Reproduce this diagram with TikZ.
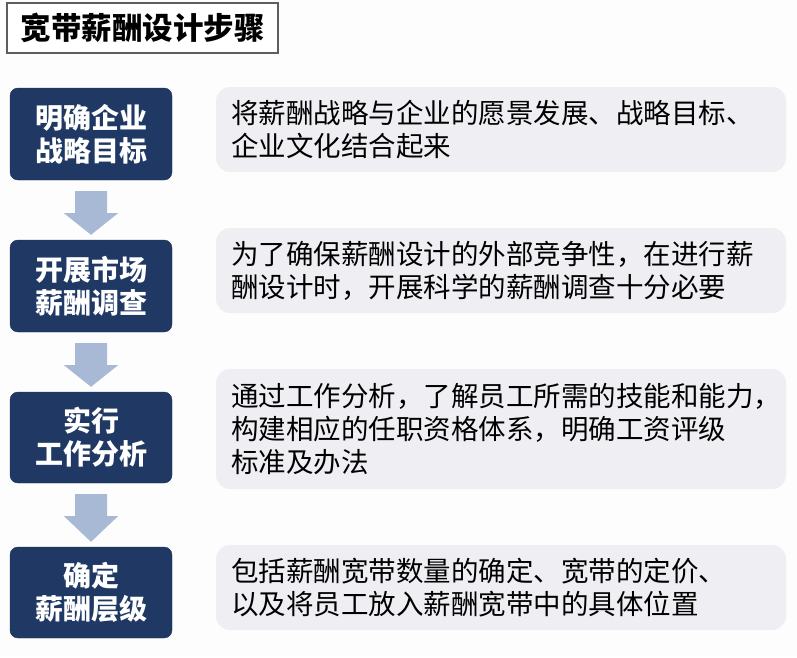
\documentclass[tikz,border=0pt]{standalone}
\usepackage{fontspec}
\newfontfamily\cjk{Noto Sans CJK SC}
\usetikzlibrary{calc}
\definecolor{navy}{HTML}{1F3864}
\definecolor{panel}{HTML}{EFEFF3}
\definecolor{arrowblue}{HTML}{A8B9D6}
\definecolor{titleframe}{HTML}{5E5E5E}
\definecolor{paper}{HTML}{FDFDFD}
\tikzset{
  titlebox/.style={draw=titleframe, line width=2.5pt, fill=white, minimum width=271pt, minimum height=50pt, inner sep=0pt, font=\cjk\bfseries\fontsize{30.5}{34}\selectfont},
  stepbox/.style={draw=navy!85!black, fill=navy, rounded corners=8pt, minimum width=162pt, minimum height=92pt, inner sep=0pt, text=white, align=center, font=\cjk\bfseries\fontsize{28}{33}\selectfont},
  descbox/.style={fill=panel, rounded corners=14pt, minimum width=570pt, text width=540pt, inner xsep=15pt, inner ysep=0pt, align=left, text=black, font=\cjk\fontsize{27.5}{33}\selectfont},
  flowarrow/.style={fill=arrowblue},
}
\newcommand{\blockarrow}[2]{%
  \fill[flowarrow] ($(#1.south)+(-16,11)$) -- ($(#1.south)+(16,11)$) -- ($(#1.south)+(16,33)$) -- ($(#1.south)+(27,33)$) -- ($(#2.north)+(0,-5)$) -- ($(#1.south)+(-27,33)$) -- ($(#1.south)+(-16,33)$) -- cycle;}
\begin{document}
\begin{tikzpicture}[x=1pt,y=-1pt]
\fill[paper] (0,0) rectangle (797,657);
\useasboundingbox (0,0) rectangle (797,657);

\node[titlebox] (title) at (142.5,28) {宽带薪酬设计步骤};

\node[stepbox] (b1) at (91,134) {明确企业\\战略目标};
\node[stepbox] (b2) at (91,286) {开展市场\\薪酬调查};
\node[stepbox, minimum height=91pt] (b3) at (91,437.5) {实行\\工作分析};
\node[stepbox, minimum height=91pt] (b4) at (91,592.5) {确定\\薪酬层级};

\blockarrow{b1}{b2}
\blockarrow{b2}{b3}
\blockarrow{b3}{b4}

\node[descbox, minimum height=85pt] (r1) at (501,129.5) {\raisebox{-3pt}{\parbox{540pt}{将薪酬战略与企业的愿景发展、战略目标、\\企业文化结合起来}}};
\node[descbox, minimum height=85pt] (r2) at (501,270.5) {\raisebox{-3pt}{\parbox{540pt}{为了确保薪酬设计的外部竞争性，在进行薪\\酬设计时，开展科学的薪酬调查十分必要}}};
\node[descbox, minimum height=120pt] (r3) at (501,429) {\raisebox{-3pt}{\parbox{540pt}{通过工作分析，了解员工所需的技能和能力，\\构建相应的任职资格体系，明确工资评级\\标准及办法}}};
\node[descbox, minimum height=85pt] (r4) at (501,587.5) {\raisebox{-3pt}{\parbox{540pt}{包括薪酬宽带数量的确定、宽带的定价、\\以及将员工放入薪酬宽带中的具体位置}}};
\end{tikzpicture}
\end{document}
